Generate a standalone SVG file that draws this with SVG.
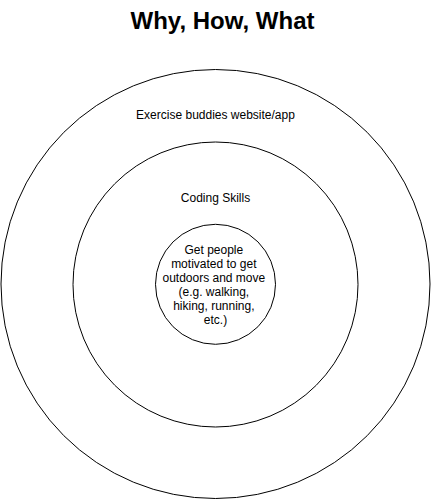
<svg xmlns="http://www.w3.org/2000/svg" width="431" height="500" viewBox="0 0 431 500">
  <style>
    .ring { fill: #ffffff; stroke: #000000; stroke-width: 1; }
    .label { font-family: "Liberation Sans", Arial, Helvetica, sans-serif; font-size: 12px; fill: #000000; text-anchor: middle; }
    .title { font-family: "Liberation Sans", Arial, Helvetica, sans-serif; font-size: 24px; font-weight: bold; fill: #000000; text-anchor: middle; }
  </style>
  <rect width="431" height="500" fill="#ffffff"/>
  <text class="title" x="222.5" y="29">Why, How, What</text>
  <g id="what">
    <circle class="ring" cx="215.5" cy="284" r="214.5"/>
    <text class="label" x="215.5" y="119">Exercise buddies website/app</text>
  </g>
  <g id="how">
    <circle class="ring" cx="215.5" cy="284.5" r="142.5"/>
    <text class="label" x="215.5" y="202">Coding Skills</text>
  </g>
  <g id="why">
    <circle class="ring" cx="215.5" cy="284.3" r="60"/>
    <text class="label">
      <tspan x="215.5" y="254">Get people</tspan>
      <tspan x="215.5" y="268">motivated to get</tspan>
      <tspan x="215.5" y="282">outdoors and move</tspan>
      <tspan x="215.5" y="296">(e.g. walking,</tspan>
      <tspan x="215.5" y="310">hiking, running,</tspan>
      <tspan x="215.5" y="324">etc.)</tspan>
    </text>
  </g>
  <g id="connectors"/>
</svg>
